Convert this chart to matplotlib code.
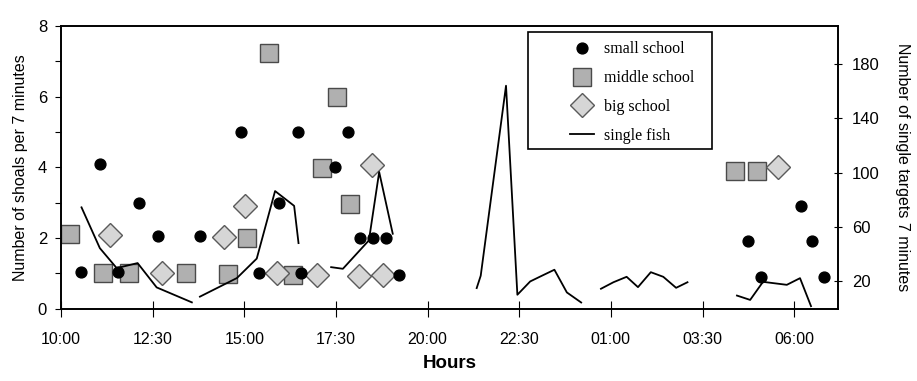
import numpy as np
import matplotlib.pyplot as plt
from matplotlib.lines import Line2D
from matplotlib.patches import Rectangle

plt.rcParams['font.family'] = ['Liberation Sans', 'DejaVu Sans']

# time in hours from midnight of day 1 (24+ = next morning)
small_t = [10.54, 11.06, 11.56, 12.13, 12.65, 13.79, 14.90, 15.39, 15.95, 16.46,
           16.54, 17.48, 17.84, 18.16, 18.50, 18.86, 19.22,
           28.75, 29.10, 30.18, 30.48, 30.82]
small_n = [1.05, 4.1, 1.05, 3.0, 2.05, 2.05, 5.0, 1.0, 3.0, 5.0,
           1.0, 4.0, 5.0, 2.0, 2.0, 2.0, 0.95,
           1.9, 0.9, 2.9, 1.9, 0.9]

middle_t = [10.25, 11.15, 11.86, 13.41, 14.55, 15.08, 15.68, 16.32, 17.11, 17.52,
            17.89, 28.39, 29.0]
middle_n = [2.1, 1.0, 1.0, 1.0, 0.98, 2.0, 7.22, 0.95, 3.97, 6.0,
            2.95, 3.9, 3.9]

big_t = [11.34, 12.75, 14.46, 15.03, 15.89, 16.98, 18.14, 18.48, 18.79, 29.57]
big_n = [2.08, 1.0, 2.04, 2.9, 1.0, 0.95, 0.93, 4.05, 0.95, 4.0]

nan = float('nan')
fish_t = [10.56, 11.06, 11.52, 12.09, 12.61, 13.57, nan,
          13.79, 14.80, 15.34, 15.84, 16.36, 16.48, nan,
          17.37, 17.69, 18.40, 18.68, 19.05, nan,
          21.34, 21.45, 22.14, 22.45, 22.80, 23.12, 23.46, 23.80, 24.19, nan,
          24.73, 25.07, 25.43, 25.74, 26.09, 26.43, 26.78, 27.09, nan,
          28.44, 28.80, 29.15, 29.80, 30.16, 30.46]
fish_n = [74.5, 44.5, 29.8, 33.5, 15.6, 4.6, nan,
          8.8, 22.5, 36.8, 86.5, 75.6, 48.2, nan,
          30.5, 29.3, 50.2, 100.5, 55.1, nan,
          15.1, 24.2, 164, 10.2, 20, 24.2, 28.6, 11.9, 4.5, nan,
          14.6, 19.4, 23.4, 15.8, 26.8, 23.4, 15.3, 19.4, nan,
          9.6, 6.4, 19.7, 17.5, 22.4, 1.8]

hour_ticks = [10, 12.5, 15, 17.5, 20, 22.5, 25, 27.5, 30]
hour_labels = ["10:00", "12:30", "15:00", "17:30", "20:00", "22:30", "01:00", "03:30", "06:00"]

fig = plt.figure(figsize=(9.17, 3.81), dpi=100)
ax = fig.add_axes([0.0665, 0.19, 0.8475, 0.742])
ax2 = ax.twinx()

circle_style = dict(ls="none", marker="o", ms=7.8, mfc="black", mec="black")
square_style = dict(ls="none", marker="s", ms=13.2, mfc="#b0b0b0", mec="#4a4a4a", mew=1.0)
diamond_style = dict(ls="none", marker="D", ms=12.5, mfc="#d6d6d6", mec="#5a5a5a", mew=1.0)

ax.plot(middle_t, middle_n, **square_style)
ax.plot(big_t, big_n, **diamond_style)
ax.plot(small_t, small_n, **circle_style)

ax2.plot(fish_t, fish_n, color="black", lw=1.3)

ax.set_xlim(10, 31.2)
ax.set_ylim(0, 8)
ax2.set_ylim(0, 208)

ax.set_xticks(hour_ticks)
ax.set_xticklabels(hour_labels, fontsize=11.5)
ax.set_yticks(range(0, 9))
ax.set_yticklabels([str(v) if v % 2 == 0 else "" for v in range(0, 9)], fontsize=12)
ax2.set_yticks([20, 60, 100, 140, 180])
ax2.set_yticklabels(["20", "60", "100", "140", "180"], fontsize=12)

ax.tick_params(axis="x", direction="inout", length=11, width=0.8, pad=11)
ax.tick_params(axis="y", direction="out", length=4, width=0.8, pad=6)
ax2.tick_params(axis="y", direction="inout", length=6, width=0.8, pad=7)

for a in (ax, ax2):
    for sp in a.spines.values():
        sp.set_linewidth(1.2)

ax.set_xlabel("Hours", fontsize=13.5, fontweight="bold", labelpad=6)
ax.set_ylabel("Number of shoals per 7 minutes", fontsize=11.5, labelpad=7)
ax2.set_ylabel("Number of single targets 7 minutes", fontsize=11.5, rotation=270, labelpad=22)

handles = [
    Line2D([], [], **circle_style),
    Line2D([], [], **square_style),
    Line2D([], [], **diamond_style),
    Line2D([], [], color="black", lw=1.3),
]
labels = ["small school", "middle school", "big school", "single fish"]

ax2.add_patch(Rectangle((0.601, 0.565), 0.237, 0.414, transform=ax2.transAxes,
                        fill=False, ec="black", lw=1.2, clip_on=False))
leg = ax2.legend(handles, labels, loc="upper left", bbox_to_anchor=(0.641, 0.985),
                 frameon=False, prop={"family": "Liberation Serif", "size": 11.5},
                 handlelength=1.5, handletextpad=0.6, labelspacing=0.8, borderpad=0.2)

fig.savefig("out.png", dpi=100)
